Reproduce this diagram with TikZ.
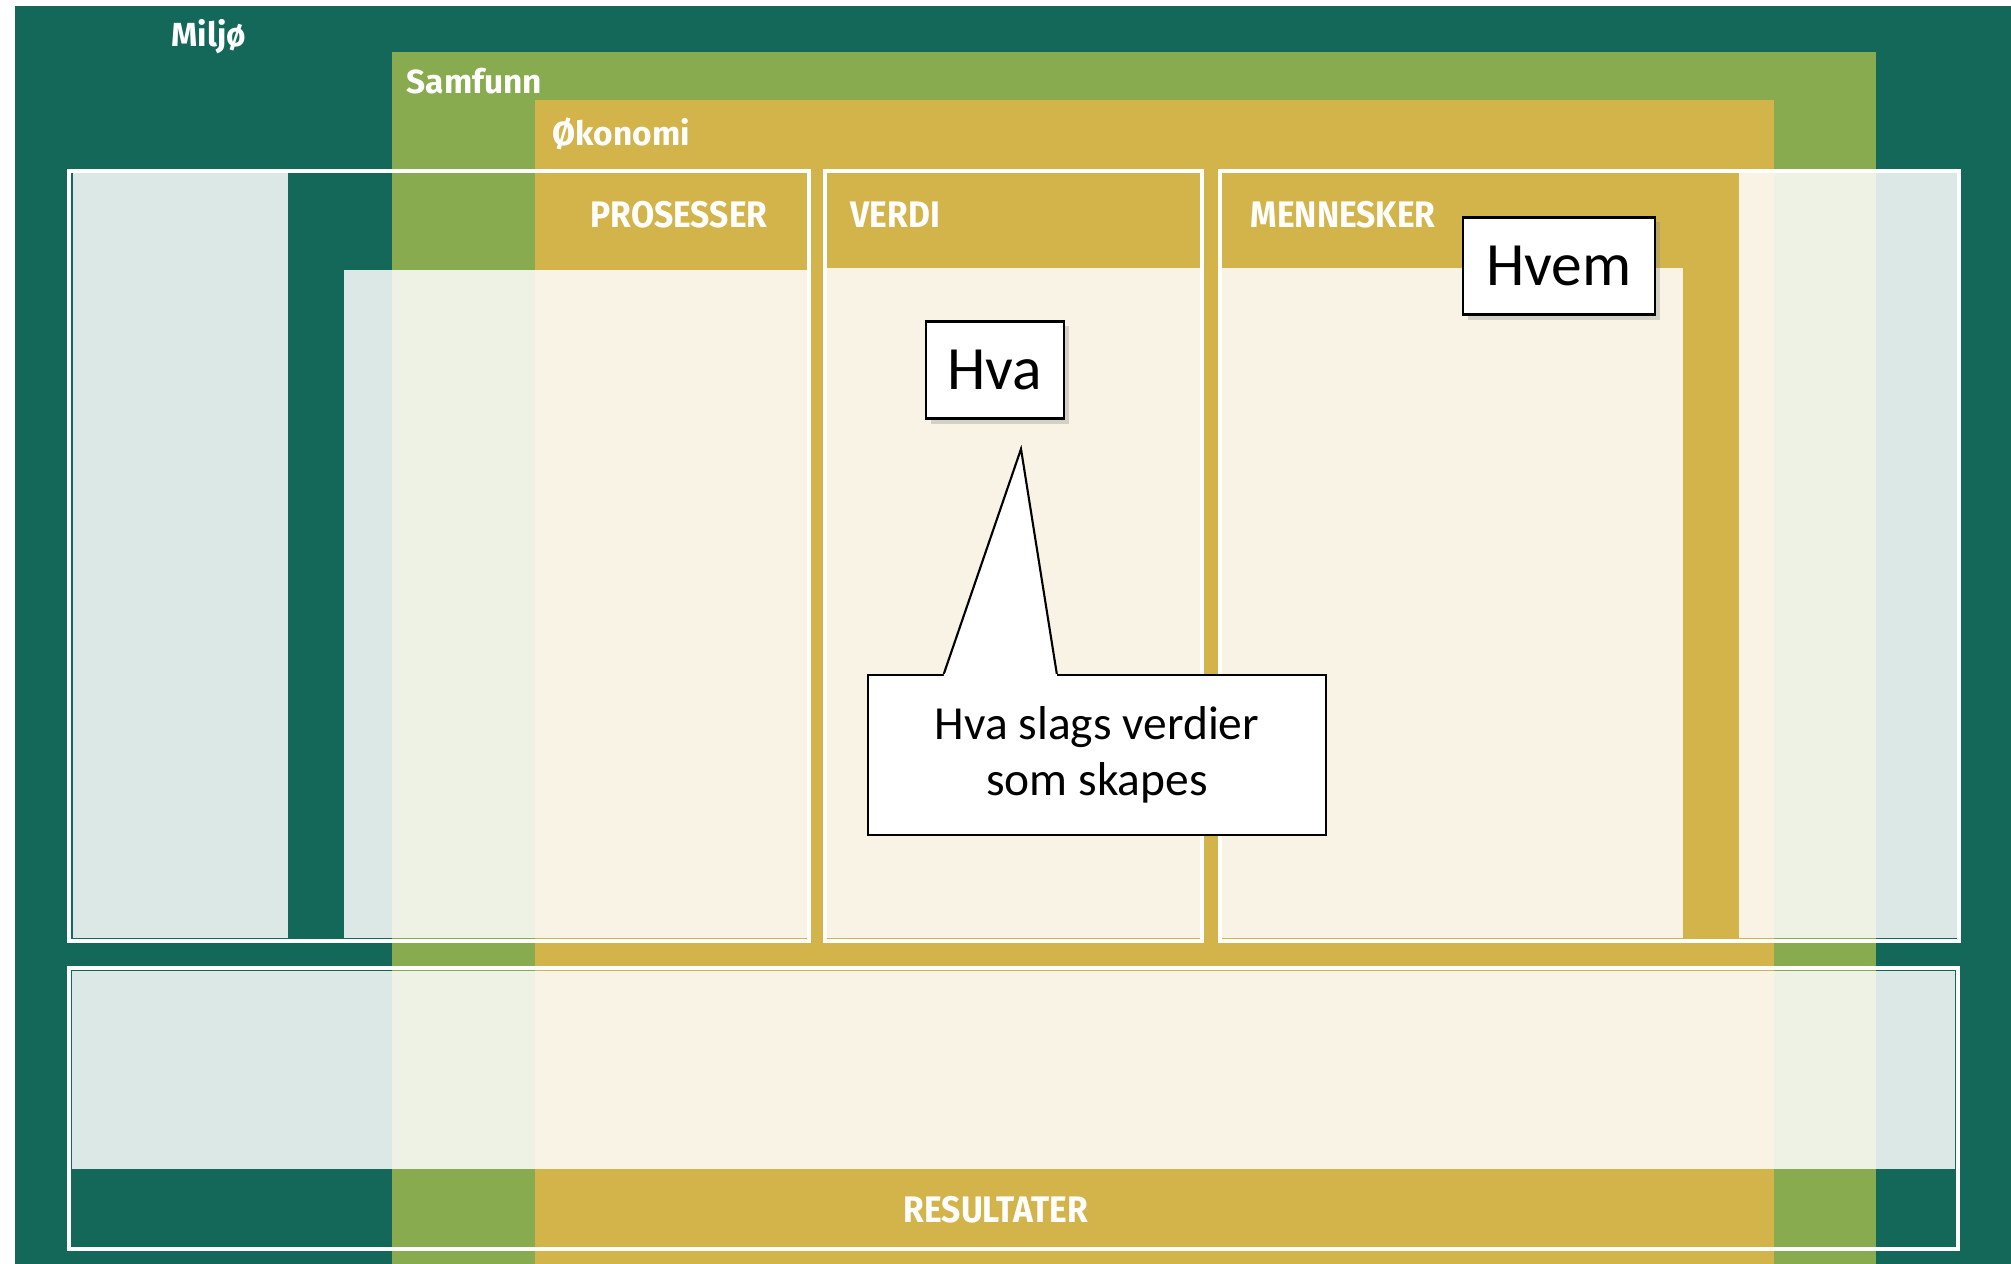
\documentclass[tikz,border=0pt]{standalone}
\usepackage{fontspec}
\setmainfont{Carlito}
\newfontfamily\firafont{Fira Sans}
\newfontfamily\firasmal[FakeStretch=0.91]{Fira Sans}
\usetikzlibrary{calc, shadows}

\definecolor{miljo}{HTML}{136859}
\definecolor{samfunn}{HTML}{89AB4F}
\definecolor{okonomi}{HTML}{D3B44B}

\begin{document}
\begin{tikzpicture}[
		x=0.01cm, y=-0.01cm,
		lag/.style={font=\firafont\bfseries\fontsize{9.5}{11}\selectfont, text=white, anchor=base west, inner sep=0pt},
		tittel/.style={font=\firasmal\bfseries\fontsize{10.5}{12}\selectfont, text=white, anchor=base west, inner sep=0pt},
		slor/.style={fill=white, fill opacity=0.85},
		ramme/.style={draw=white, line width=1.2pt},
		merkelapp/.style={draw, fill=white, line width=0.6pt, font=\fontsize{17.5}{20}\selectfont, minimum height=0.97cm, inner sep=0pt, drop shadow={shadow xshift=0.05cm, shadow yshift=-0.05cm, opacity=0.3}},
		boble/.style={draw, fill=white, line width=0.6pt, align=center, font=\fontsize{13.5}{16}\selectfont, minimum width=4.58cm, minimum height=1.6cm, inner sep=0pt}
	]
	\useasboundingbox (0,0) rectangle (2011,1264);
	\fill[white] (0,0) rectangle (2011,1264);

	% lagene
	\fill[miljo] (15,6) rectangle (2011,1264);
	\fill[samfunn] (392,52) rectangle (1876,1264);
	\fill[okonomi] (535,100) rectangle (1774,1264);
	\node[lag] (miljo) at (171,47) {Miljø};
	\node[lag] (samfunn) at (406,94) {Samfunn};
	\node[lag] (okonomi) at (552,146) {Økonomi};

	% prosesser
	\fill[slor] (73,173) rectangle (288,938);
	\fill[slor] (344,270) rectangle (807,938);
	\draw[ramme] (69,171) rectangle (809,941);
	\node[tittel] (prosesser) at (590,228) {PROSESSER};

	% verdi
	\fill[slor] (827,268) rectangle (1200,938);
	\draw[ramme] (825,171) rectangle (1202,941);
	\node[tittel] (verdi) at (850,228) {VERDI};

	% mennesker
	\fill[slor] (1221,268) rectangle (1683,938);
	\fill[slor] (1739,173) rectangle (1957,938);
	\draw[ramme] (1220,171) rectangle (1959,941);
	\node[tittel] (mennesker) at (1250,228) {MENNESKER};

	% resultater
	\fill[slor] (72,971) rectangle (1955,1169);
	\draw[ramme] (69,968) rectangle (1958,1249);
	\node[tittel] (resultater) at (903,1222) {RESULTATER};

	% merkelapper
	\node[merkelapp, minimum width=1.38cm] (hva) at (995,370) {Hva};
	\node[merkelapp, minimum width=1.92cm] (hvem) at (1559,266) {Hvem};

	% snakkeboble
	\node[boble] (boble) at (1097,755) {Hva slags verdier\\som skapes};
	\coordinate (spiss) at (1021,449);
	\coordinate (fot1) at ($(boble.north west)+(77,0)$);
	\coordinate (fot2) at ($(boble.north west)+(190,0)$);
	\fill[white] ($(fot1)+(0,2)$) -- (fot1) -- (spiss) -- (fot2) -- ($(fot2)+(0,2)$) -- cycle;
	\draw[line width=0.6pt] (fot1) -- (spiss) -- (fot2);

\end{tikzpicture}
\end{document}
